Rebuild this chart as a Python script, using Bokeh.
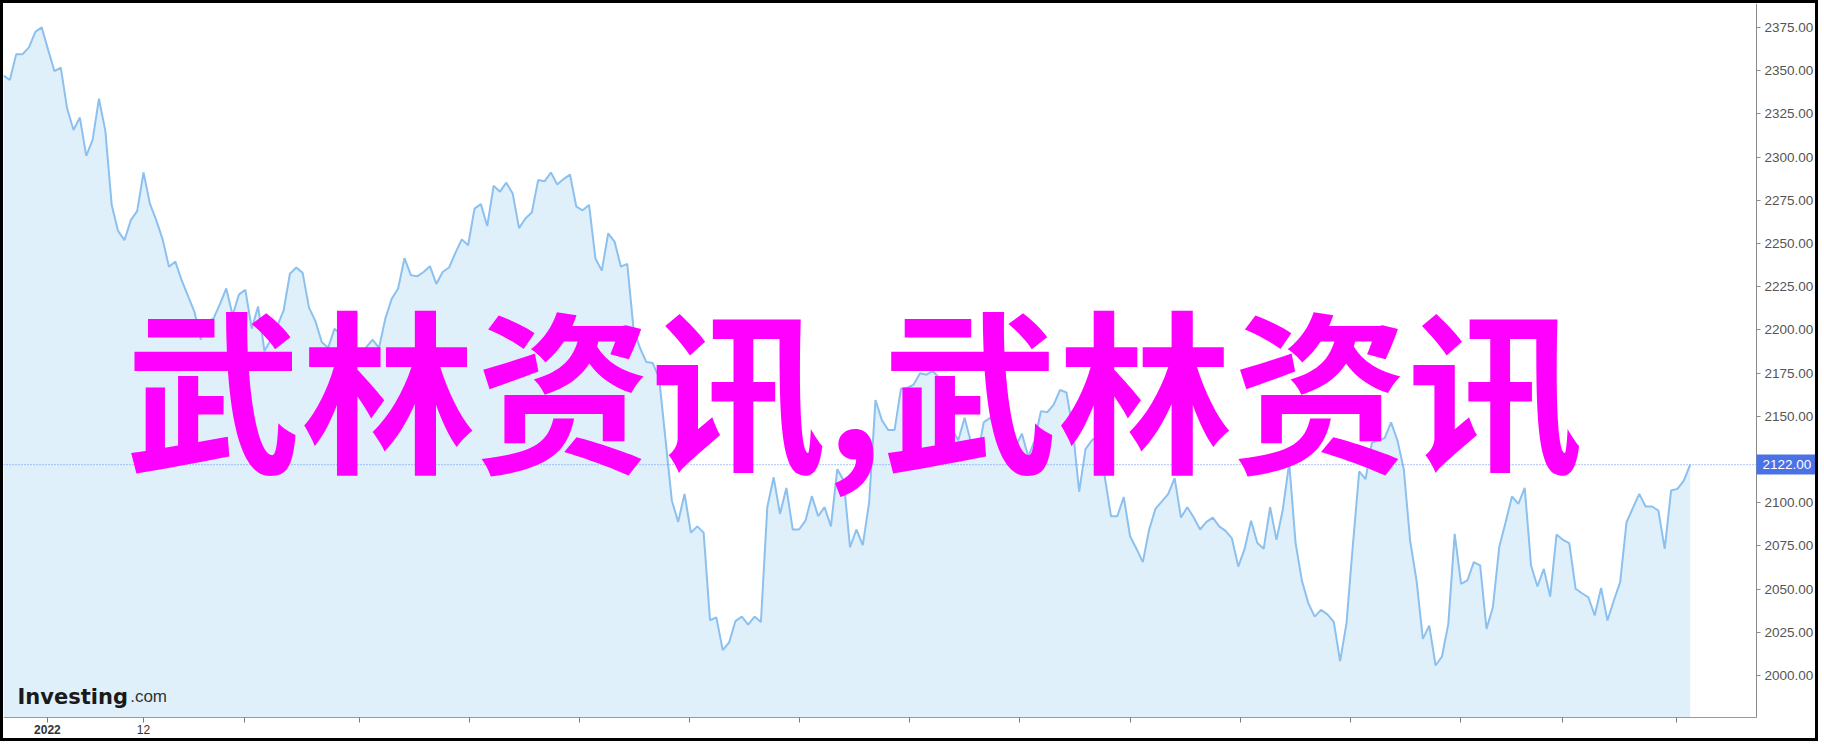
from bokeh.plotting import figure
from bokeh.models import (LinearAxis, FixedTicker, Span, Label, Range1d,
                          PrintfTickFormatter)
from bokeh.embed import file_html
from bokeh.resources import INLINE

# ---- data ----
prices = [
    2347.2, 2344.6, 2359.6, 2359.6, 2363.5, 2372.5, 2375.1, 2362.2, 2349.8, 2351.8,
    2328.1, 2315.7, 2322.9, 2300.7, 2310.0, 2333.8, 2315.2, 2272.3, 2257.3, 2251.9,
    2263.5, 2268.7, 2291.1, 2273.1, 2263.5, 2252.4, 2236.6, 2239.5, 2228.6, 2219.6,
    2210.5, 2194.3, 2204.6, 2206.7, 2214.9, 2224.0, 2208.5, 2220.6, 2223.2, 2200.7,
    2213.6, 2187.8, 2194.3, 2202.0, 2211.1, 2232.5, 2236.1, 2233.0, 2212.9, 2205.1,
    2193.0, 2189.6, 2200.7, 2197.4, 2185.0, 2180.0, 2183.0, 2190.0, 2194.3, 2189.6,
    2206.7, 2218.0, 2224.0, 2241.5, 2231.7, 2231.0, 2233.5, 2236.9, 2226.6, 2233.5,
    2236.1, 2244.6, 2252.4, 2249.0, 2270.2, 2272.8, 2260.1, 2283.4, 2280.0, 2285.2,
    2279.0, 2258.9, 2264.5, 2267.9, 2286.7, 2286.0, 2291.1, 2284.2, 2287.3, 2289.9,
    2271.3, 2269.2, 2272.3, 2241.3, 2234.3, 2255.8, 2251.1, 2236.6, 2238.2, 2200.0,
    2189.6, 2181.4, 2180.8, 2172.3, 2137.0, 2101.3, 2088.9, 2105.1, 2082.7, 2086.3,
    2082.7, 2032.0, 2033.6, 2014.7, 2019.1, 2031.5, 2034.1, 2029.5, 2034.1, 2031.0,
    2097.4, 2114.7, 2093.5, 2108.5, 2084.5, 2084.5, 2089.6, 2103.8, 2092.2, 2097.4,
    2086.3, 2119.4, 2112.9, 2074.2, 2084.5, 2075.4, 2100.0, 2159.4, 2147.8, 2142.1,
    2142.1, 2165.9, 2166.4, 2168.4, 2174.9, 2174.1, 2176.2, 2172.3, 2153.0, 2142.6,
    2136.1, 2149.1, 2134.8, 2125.8, 2146.5, 2149.1, 2145.0, 2138.7, 2129.7, 2132.3,
    2140.0, 2126.6, 2136.0, 2153.0, 2152.4, 2156.8, 2165.3, 2163.8, 2142.6, 2106.4,
    2131.0, 2136.1, 2138.7, 2115.5, 2092.2, 2092.2, 2103.3, 2080.6, 2073.4, 2065.6,
    2084.5, 2096.6, 2100.8, 2105.1, 2114.2, 2091.4, 2097.4, 2091.4, 2084.5, 2088.9,
    2091.4, 2086.3, 2083.7, 2079.3, 2063.0, 2073.4, 2089.6, 2076.7, 2073.4, 2097.4,
    2078.5, 2096.1, 2123.0, 2076.7, 2054.8, 2041.9, 2034.1, 2038.0, 2035.4, 2031.0,
    2008.3, 2030.2, 2075.4, 2118.1, 2113.7, 2134.8, 2136.1, 2137.4, 2146.5, 2136.1,
    2119.4, 2078.0, 2055.0, 2021.2, 2028.9, 2005.8, 2011.0, 2029.9, 2082.0, 2053.0,
    2055.0, 2065.6, 2063.7, 2027.0, 2039.5, 2074.3, 2088.7, 2103.6, 2099.3, 2108.6,
    2063.7, 2051.5, 2061.7, 2045.7, 2081.6, 2078.5, 2076.6, 2050.2, 2047.6, 2045.3,
    2034.7, 2050.7, 2031.8, 2043.4, 2054.0, 2088.7, 2097.0, 2105.1, 2097.8, 2097.8,
    2095.5, 2073.3, 2107.1, 2108.0, 2112.8, 2122.0,
]
last_price = 2122.0
y_ticks = [2000, 2025, 2050, 2075, 2100, 2125, 2150, 2175, 2200, 2225, 2250,
           2275, 2300, 2325, 2350, 2375]
x_tick_pos = [6.9, 22.0, 37.8, 55.9, 73.2, 90.5, 107.8, 125.1, 142.4, 159.7,
              177.0, 194.3, 211.6, 228.9, 245.0, 262.9]
x_tick_labels = ["2022", "12"]
overlay_text = "武林资讯,武林资讯"

idx = list(range(len(prices)))
# the frame covers the whole canvas; axes are pinned inside it
x_lo, x_hi = 0, 285.63
y_lo, y_hi = 1960.07, 2388.9
x_axis_at = 275.4      # right price axis position
y_axis_at = 1975.7     # bottom time axis position

p = figure(width=1818, height=741, output_backend="svg", toolbar_location=None,
           x_range=Range1d(x_lo, x_hi), y_range=Range1d(y_lo, y_hi),
           x_axis_location=None, y_axis_location=None)
p.min_border_left = 0
p.min_border_top = 0
p.min_border_right = 0
p.min_border_bottom = 0
p.background_fill_color = "white"
p.border_fill_color = "white"
p.outline_line_color = None
p.xgrid.visible = False
p.ygrid.visible = False
p.styles = {"border": "3px solid black"}

# area + line
p.varea(x=idx, y1=[y_axis_at] * len(prices), y2=prices, fill_color="#e0f0fa")
p.line(x=idx, y=prices, line_color="#8cc0ee", line_width=2)

# last price dotted line
p.add_layout(Span(location=last_price, dimension="width", line_color="#5f8cf0",
                  line_dash="1 2", line_width=1))

# right axis
ya = LinearAxis(ticker=FixedTicker(ticks=y_ticks),
                formatter=PrintfTickFormatter(format="%.2f"),
                fixed_location=x_axis_at, bounds=(y_axis_at, y_hi))
ya.axis_line_color = "#8a8a8a"
ya.major_tick_line_color = "#8a8a8a"
ya.major_tick_out = 4
ya.major_tick_in = 0
ya.minor_tick_line_color = None
ya.major_label_text_color = "#555555"
ya.major_label_text_font = "Liberation Sans"
ya.major_label_text_font_size = "13.5px"
ya.major_label_standoff = 4
p.add_layout(ya, "right")

# bottom axis
overrides = {t: "" for t in x_tick_pos}
overrides[x_tick_pos[1]] = x_tick_labels[1]
xa = LinearAxis(ticker=FixedTicker(ticks=x_tick_pos), major_label_overrides=overrides,
                fixed_location=y_axis_at, bounds=(x_lo, x_axis_at))
xa.axis_line_color = "#9a9a9a"
xa.major_tick_line_color = "#7a7a7a"
xa.major_tick_out = 5
xa.major_tick_in = 0
xa.minor_tick_line_color = None
xa.major_label_text_color = "#333333"
xa.major_label_text_font = "Liberation Sans"
xa.major_label_text_font_size = "12px"
xa.major_label_standoff = 3
p.add_layout(xa, "below")

# bold year label
xa2 = LinearAxis(ticker=FixedTicker(ticks=[x_tick_pos[0]]),
                 major_label_overrides={x_tick_pos[0]: x_tick_labels[0]},
                 fixed_location=y_axis_at)
xa2.axis_line_color = None
xa2.major_tick_line_color = None
xa2.minor_tick_line_color = None
xa2.major_tick_out = 5
xa2.major_tick_in = 0
xa2.major_label_standoff = 3
xa2.major_label_text_color = "#333333"
xa2.major_label_text_font = "Liberation Sans"
xa2.major_label_text_font_size = "12px"
xa2.major_label_text_font_style = "bold"
p.add_layout(xa2, "below")

# last-price tag: single tick drawn as a wide bar on the price axis
tag = LinearAxis(ticker=FixedTicker(ticks=[last_price]),
                 major_label_overrides={last_price: "%.2f" % last_price},
                 fixed_location=x_axis_at, level="overlay")
tag.axis_line_color = None
tag.minor_tick_line_color = None
tag.major_tick_line_color = "#4a72e6"
tag.major_tick_line_width = 20
tag.major_tick_line_cap = "butt"
tag.major_tick_out = 62
tag.major_tick_in = 0
tag.major_label_standoff = -56
tag.major_label_text_color = "white"
tag.major_label_text_font = "Liberation Sans"
tag.major_label_text_font_size = "13.5px"
p.add_layout(tag, "right")

# Investing.com logo
p.add_layout(Label(x=2.2, y=1987.8, text="Investing", text_font="DejaVu Sans",
                   text_font_size="21px", text_font_style="bold",
                   text_color="#1a1a1a", text_baseline="alphabetic"))
p.add_layout(Label(x=19.9, y=1987.8, text=".com", text_font="Liberation Sans",
                   text_font_size="17px", text_color="#333333",
                   text_baseline="alphabetic"))

# overlay text
p.add_layout(Label(x=19.2, y=2169.0, text=overlay_text, text_font="Noto Sans CJK SC",
                   text_font_size="175px", text_font_style="bold",
                   text_color="#ff00ff", text_baseline="middle", text_align="left"))

open("out.html", "w").write(file_html(p, INLINE))
